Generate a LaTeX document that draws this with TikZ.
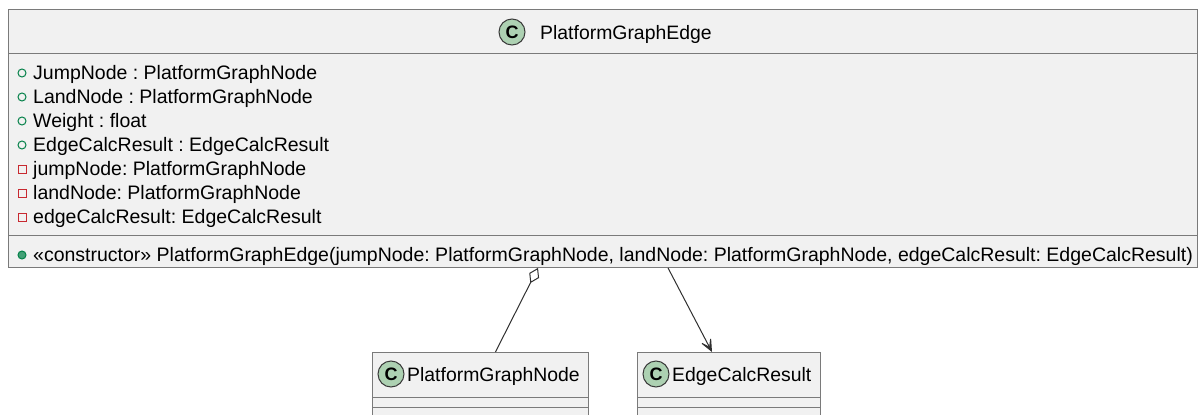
\documentclass[tikz,border=0pt]{standalone}
\usepackage{fontspec}
\setmainfont{Liberation Sans}
\usetikzlibrary{arrows.meta,calc}
\definecolor{boxfill}{HTML}{F1F1F1}
\definecolor{boxline}{HTML}{7A7A7A}
\definecolor{iconfill}{HTML}{ADD1B2}
\definecolor{iconline}{HTML}{3A3A3A}
\definecolor{pubgreen}{HTML}{038048}
\definecolor{privred}{HTML}{C82930}
\definecolor{linkline}{HTML}{303030}
\tikzset{
  classbox/.style={draw=boxline, fill=boxfill, line width=0.9pt, rectangle, inner sep=0pt},
  sepline/.style={draw=boxline, line width=0.9pt},
  member/.style={anchor=base west, inner sep=0pt, font=\fontsize{19.5}{22}\selectfont\frenchspacing},
  title/.style={anchor=base west, inner sep=0pt, font=\fontsize{19.4}{22}\selectfont\frenchspacing},
  cicon/.style={circle, draw=iconline, fill=iconfill, line width=1pt, minimum size=26pt, inner sep=0pt, font=\fontsize{18}{18}\selectfont\bfseries},
  pubfield/.style={circle, draw=pubgreen, line width=1pt, minimum size=8pt, inner sep=0pt},
  pubmethod/.style={circle, draw=pubgreen, fill=pubgreen!75!white, line width=1pt, minimum size=8pt, inner sep=0pt},
  privfield/.style={rectangle, draw=privred, line width=1pt, minimum size=8pt, inner sep=0pt},
  link/.style={draw=linkline, line width=1pt},
}
\begin{document}
\begin{tikzpicture}[x=1pt,y=1pt]
\useasboundingbox (0,0) rectangle (1200,-415);
\clip (0,0) rectangle (1200,-415);
\fill[white] (0,0) rectangle (1200,-415);

% PlatformGraphEdge class
\node[classbox, minimum width=1189pt, minimum height=258pt, anchor=north west] (edge) at (8,-9) {};
\draw[sepline] (8,-53) -- (1197,-53);
\draw[sepline] (8,-235) -- (1197,-235);
\node[cicon] (edgeicon) at (512,-32) {C};
\node[title] (edgename) at (540,-39) {PlatformGraphEdge};

% fields
\node[pubfield] (v1) at (22,-73) {};
\node[member] (f1) at (33,-79) {JumpNode : PlatformGraphNode};
\node[pubfield] (v2) at (22,-97) {};
\node[member] (f2) at (33,-103) {LandNode : PlatformGraphNode};
\node[pubfield] (v3) at (22,-121) {};
\node[member] (f3) at (33,-127) {Weight : float};
\node[pubfield] (v4) at (22,-145) {};
\node[member] (f4) at (33,-151) {EdgeCalcResult : EdgeCalcResult};
\node[privfield] (v5) at (22,-169) {};
\node[member] (f5) at (33,-175) {jumpNode: PlatformGraphNode};
\node[privfield] (v6) at (22,-193) {};
\node[member] (f6) at (33,-199) {landNode: PlatformGraphNode};
\node[privfield] (v7) at (22,-217) {};
\node[member] (f7) at (33,-223) {edgeCalcResult: EdgeCalcResult};

% constructor
\node[pubmethod] (v8) at (22,-255) {};
\node[member] (m1) at (33,-261) {«constructor» PlatformGraphEdge(jumpNode: PlatformGraphNode, landNode: PlatformGraphNode, edgeCalcResult: EdgeCalcResult)};

% PlatformGraphNode class
\node[classbox, minimum width=216pt, minimum height=90pt, anchor=north west] (gnode) at (372,-352) {};
\draw[sepline] (372,-397) -- (588,-397);
\draw[sepline] (372,-407) -- (588,-407);
\node[cicon] (gnodeicon) at (391,-374) {C};
\node[title] (gnodename) at (407,-381) {PlatformGraphNode};

% EdgeCalcResult class
\node[classbox, minimum width=183pt, minimum height=90pt, anchor=north west] (calc) at (637,-352) {};
\draw[sepline] (637,-397) -- (820,-397);
\draw[sepline] (637,-407) -- (820,-407);
\node[cicon] (calcicon) at (656,-374) {C};
\node[title] (calcname) at (672,-381) {EdgeCalcResult};

% relations
\coordinate (aggend) at ($(edge.south west)+(530,0)$);
\coordinate (assocstart) at ($(edge.south west)+(660,0)$);
\draw[link, {Diamond[open, length=17pt, width=11pt, line width=1pt]}-] (aggend) -- ($(gnode.north)+(15,0)$);
\draw[link, -{Stealth[length=17pt, width=15pt, inset=11pt]}] (assocstart) -- ($(calc.north west)+(75,0)$);
\end{tikzpicture}
\end{document}
